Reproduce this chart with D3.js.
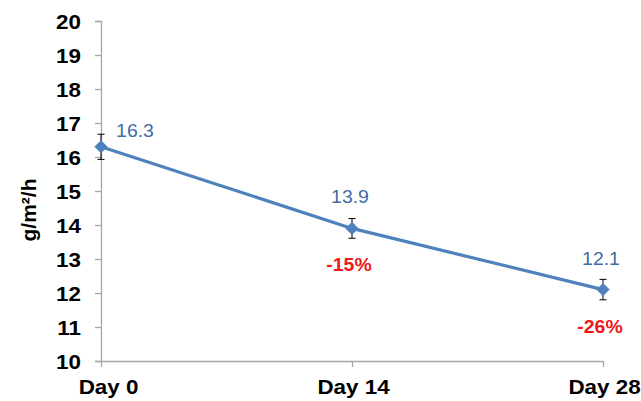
<!DOCTYPE html>
<html><head><meta charset="utf-8">
<script src="https://cdn.jsdelivr.net/npm/d3@7"></script>
<style>body{margin:0;background:#fff;}svg{display:block;}</style>
</head><body>
<svg id="c" width="641" height="401"></svg>
<script>
const categories = ["Day 0", "Day 14", "Day 28"];
const values = [16.3, 13.9, 12.1];
const errors = [0.37, 0.29, 0.3];
const changeLabels = ["", "-15%", "-26%"];
const yTicks = [10, 11, 12, 13, 14, 15, 16, 17, 18, 19, 20];
const yTitle = "g/m²/h";

const svg = d3.select("#c");
const blue = "#4F81BD", axisCol = "#A6A6A6";
const font = "Liberation Sans, Arial, sans-serif";
const sx = 1.12;
const x = d3.scalePoint().domain(categories).range([101, 603]);
const y = d3.scaleLinear().domain([10, 20]).range([361, 21]);

// y axis
const gy = svg.append("g").attr("transform", "translate(101,0)")
  .call(d3.axisLeft(y).tickValues(yTicks).tickSize(6).tickPadding(12).tickFormat(d3.format("d")));
gy.select(".domain").attr("stroke", axisCol).attr("stroke-width", 1.3);
gy.selectAll(".tick line").attr("stroke", axisCol).attr("stroke-width", 1.3);
gy.selectAll(".tick text").attr("font-family", font)
  .attr("font-weight", "bold").attr("font-size", 20).attr("fill", "#000").attr("dy", "0.36em")
  .attr("x", -20 / sx).attr("transform", `scale(${sx},1)`);

// x axis
const gx = svg.append("g").attr("transform", "translate(0,361)")
  .call(d3.axisBottom(x).tickSize(6).tickSizeOuter(0).tickPadding(13));
gx.select(".domain").attr("stroke", axisCol).attr("stroke-width", 1.3);
gx.selectAll(".tick line").attr("stroke", axisCol).attr("stroke-width", 1.3);
gx.selectAll(".tick text").attr("font-family", font)
  .attr("font-weight", "bold").attr("font-size", 20).attr("fill", "#000")
  .attr("x", (d, i) => (i === 0 ? 7 : 1) / sx).attr("transform", `scale(${sx},1)`);

// y title
svg.append("text").attr("transform", "translate(36,210) rotate(-90)")
  .attr("text-anchor", "middle").attr("font-family", font)
  .attr("font-weight", "bold").attr("font-size", 21).attr("fill", "#000").text(yTitle);

// line
svg.append("path").datum(values)
  .attr("d", d3.line().x((d, i) => x(categories[i])).y(d => y(d)))
  .attr("fill", "none").attr("stroke", blue).attr("stroke-width", 3.2);

// error bars
const eb = svg.append("g").selectAll("g").data(values).join("g");
eb.append("line").attr("x1", (d, i) => x(categories[i])).attr("x2", (d, i) => x(categories[i]))
  .attr("y1", (d, i) => y(d + errors[i])).attr("y2", (d, i) => y(d - errors[i]))
  .attr("stroke", "#000").attr("stroke-width", 1);
[1, -1].forEach(s => {
  eb.append("line").attr("x1", (d, i) => x(categories[i]) - 3.5).attr("x2", (d, i) => x(categories[i]) + 3.5)
    .attr("y1", (d, i) => y(d + s * errors[i])).attr("y2", (d, i) => y(d + s * errors[i]))
    .attr("stroke", "#000").attr("stroke-width", 1);
});

// markers
svg.append("g").selectAll("path").data(values).join("path")
  .attr("transform", (d, i) => `translate(${x(categories[i])},${y(d)})`)
  .attr("d", d3.symbol().type(d3.symbolDiamond2).size(110)())
  .attr("fill", blue);

// value labels
svg.append("g").selectAll("g").data(values).join("g")
  .attr("transform", (d, i) => `translate(${x(categories[i]) + (i === 0 ? 34 : -2)},${y(d) + (i === 0 ? -10 : -25)}) scale(1.08,1)`)
  .append("text")
  .attr("text-anchor", "middle").attr("font-family", font)
  .attr("font-size", 18).attr("fill", "#3F6CA6").text(d => d.toFixed(1));

// change labels
svg.append("g").selectAll("g").data(values).join("g")
  .attr("transform", (d, i) => `translate(${x(categories[i]) - 3},${y(d) + 43}) scale(1.08,1)`)
  .append("text")
  .attr("text-anchor", "middle").attr("font-family", font)
  .attr("font-weight", "bold").attr("font-size", 18).attr("fill", "#F01818")
  .text((d, i) => changeLabels[i]);
</script>
</body></html>
